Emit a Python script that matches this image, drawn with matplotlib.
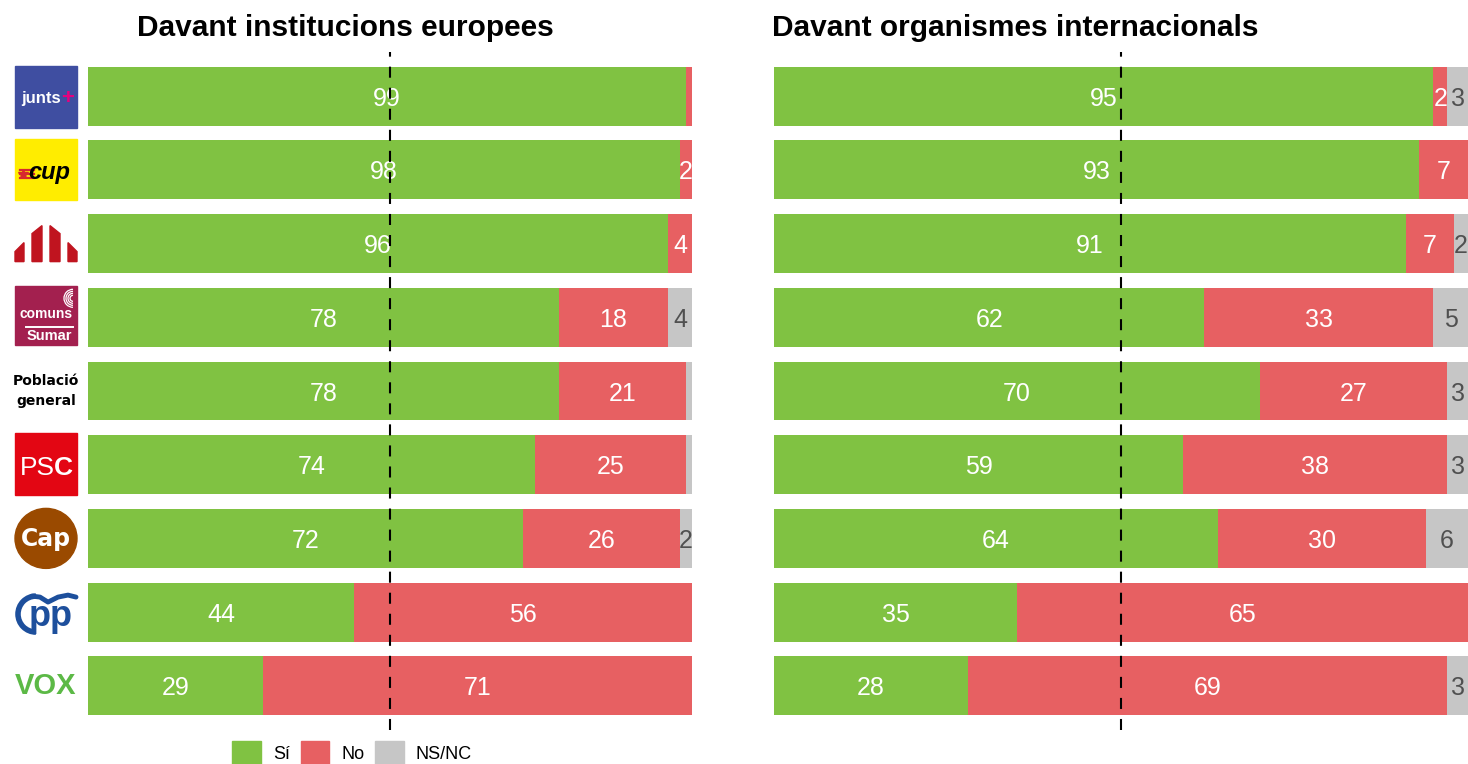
import matplotlib.pyplot as plt
from matplotlib.patches import Rectangle, Ellipse, Polygon, Arc, Patch

plt.rcParams['font.family'] = ['Liberation Sans', 'DejaVu Sans']

# Data: percentage of Sí / No / NS-NC per party (rows top to bottom)
parties = ['Junts', 'CUP', 'ERC', 'Comuns Sumar', 'Població general',
           'PSC', 'Cap', 'PP', 'VOX']
eu_si = [99, 98, 96, 78, 78, 74, 72, 44, 29]
eu_no = [1, 2, 4, 18, 21, 25, 26, 56, 71]
eu_ns = [0, 0, 0, 4, 1, 1, 2, 0, 0]
int_si = [95, 93, 91, 62, 70, 59, 64, 35, 28]
int_no = [2, 7, 7, 33, 27, 38, 30, 65, 69]
int_ns = [3, 0, 2, 5, 3, 3, 6, 0, 3]
titles = ['Davant institucions europees', 'Davant organismes internacionals']
legend_labels = ['Sí', 'No', 'NS/NC']

green = '#80C242'
red = '#E76062'
grey = '#C6C6C6'
colors = [green, red, grey]
text_colors = ['white', 'white', '#505050']

W, H = 1468, 764
fig = plt.figure(figsize=(W / 100, H / 100), dpi=100)

# axes frame in pixels
top_px, bot_px = 52, 730
bottom = 1 - bot_px / H
height = (bot_px - top_px) / H
ylims = (len(parties) - 1 + 0.6, -0.6)
PX = (bot_px - top_px) / (ylims[0] - ylims[1])  # pixels per row unit


def draw_panel(ax, si, no, ns):
    rows = list(range(len(parties)))
    left = [0] * len(rows)
    for vals, col, tcol in zip([si, no, ns], colors, text_colors):
        ax.barh(rows, vals, left=left, height=0.8, color=col, linewidth=0)
        for r, v, l in zip(rows, vals, left):
            if v >= 2:
                # small nudge down so digits sit in the middle of the bar
                ax.text(l + v / 2, r + 0.035, str(v), ha='center', va='center',
                        color=tcol, fontsize=18, clip_on=True, zorder=4,
                        family='Liberation Sans')
        left = [a + b for a, b in zip(left, vals)]
    ax.axvline(50, color='black', linestyle=(0, (5.3, 4.8)), linewidth=1.5,
               zorder=5)
    ax.set_xlim(0, 100)
    ax.set_ylim(*ylims)
    ax.axis('off')


ax1 = fig.add_axes([88 / W, bottom, 604 / W, height])
draw_panel(ax1, eu_si, eu_no, eu_ns)
ax2 = fig.add_axes([774 / W, bottom, 694 / W, height])
draw_panel(ax2, int_si, int_no, int_ns)

fig.text(345 / W, 1 - 28 / H, titles[0], ha='center', va='center',
         fontsize=21.5, fontweight='bold')
fig.text(1015 / W, 1 - 28 / H, titles[1], ha='center', va='center',
         fontsize=21.5, fontweight='bold')

# party logos, drawn in pixel x units and row y units
lg = fig.add_axes([0, bottom, 88 / W, height])
lg.set_xlim(0, 88)
lg.set_ylim(*ylims)
lg.axis('off')


def yy(i, dy):
    return i + dy / PX


# junts
lg.add_patch(Rectangle((15, yy(0, -30)), 62, 62 / PX, color='#3F4EA1'))
lg.text(41, yy(0, 2), 'junts', ha='center', va='center', color='white',
        fontsize=12, fontweight='bold')
lg.text(67.5, yy(0, 2), '+', ha='center', va='center', color='#E6007E',
        fontsize=16, fontweight='bold')

# cup
lg.add_patch(Rectangle((15, yy(1, -31)), 62, 61 / PX, color='#FFED00'))
for dy in [0, 4, 8]:
    lg.plot([20, 34], [yy(1, dy), yy(1, dy)], color='#D7262E', lw=1.6)
lg.plot(23, yy(1, 4), marker='*', color='#D7262E', markersize=7)
lg.text(49, yy(1, 3), 'cup', ha='center', va='center', color='black',
        fontsize=17, fontweight='bold', style='italic')

# ERC
erc_shapes = [[(15, 18), (15, 8), (24, -1), (24, 18)],
              [(32, 18), (32, -10), (42, -18), (42, 18)],
              [(50, 18), (50, -18), (60, -10), (60, 18)],
              [(68, 18), (68, -1), (77, 8), (77, 18)]]
for shp in erc_shapes:
    lg.add_patch(Polygon([(x, yy(2, d)) for x, d in shp], color='#C0141F'))

# comuns Sumar
lg.add_patch(Rectangle((15, yy(3, -31)), 62, 59 / PX, color='#A3204F'))
lg.text(46, yy(3, -3), 'comuns', ha='center', va='center', color='white',
        fontsize=10, fontweight='bold')
lg.plot([26, 73], [yy(3, 10), yy(3, 10)], color='white', lw=1.4)
lg.text(49, yy(3, 19), 'Sumar', ha='center', va='center', color='white',
        fontsize=10.5, fontweight='bold')
for w in [6, 10, 14, 18]:
    lg.add_patch(Arc((73, yy(3, -19)), w, w / PX, theta1=90, theta2=270,
                     color='white', lw=0.9))

# Poblacio general
lg.text(46, yy(4, 0), 'Població\ngeneral', ha='center', va='center',
        color='black', fontsize=10, fontweight='bold', linespacing=1.5,
        family=['DejaVu Sans'])

# PSC
lg.add_patch(Rectangle((15, yy(5, -32)), 62, 62 / PX, color='#E30613'))
lg.text(55, yy(5, 3), 'PS', ha='right', va='center', color='white', fontsize=19)
lg.text(54, yy(5, 3), 'C', ha='left', va='center', color='white',
        fontsize=19, fontweight='bold')

# Cap
lg.add_patch(Ellipse((46, yy(6, 0)), 62, 60 / PX, color='#9A4A00'))
lg.text(46, yy(6, 1), 'Cap', ha='center', va='center', color='white',
        fontsize=17, fontweight='bold', family=['DejaVu Sans'])

# PP
pp_blue = '#1D4F9C'
lg.text(51, yy(7, 4), 'pp', ha='center', va='center', color=pp_blue,
        fontsize=26, fontweight='bold')
lg.add_patch(Arc((36, yy(7, 2)), 36, 36 / PX, theta1=105, theta2=250,
                 color=pp_blue, lw=4))
lg.plot([32, 40, 48, 58, 68, 76],
        [yy(7, -16), yy(7, -15), yy(7, -10), yy(7, -15), yy(7, -17), yy(7, -15)],
        color=pp_blue, lw=3.5, solid_capstyle='round')

# VOX
lg.text(46, yy(8, 0), 'VOX', ha='center', va='center', color='#5CB946',
        fontsize=21, fontweight='bold')

# legend
handles = [Patch(color=c) for c in colors]
fig.legend(handles, legend_labels, loc='center', ncol=3, frameon=False,
           bbox_to_anchor=(352 / W, 1 - 753 / H), fontsize=13,
           handlelength=1.6, handleheight=1.6, handletextpad=0.65,
           columnspacing=0.6, borderpad=0)

fig.savefig('out.png', dpi=100)
